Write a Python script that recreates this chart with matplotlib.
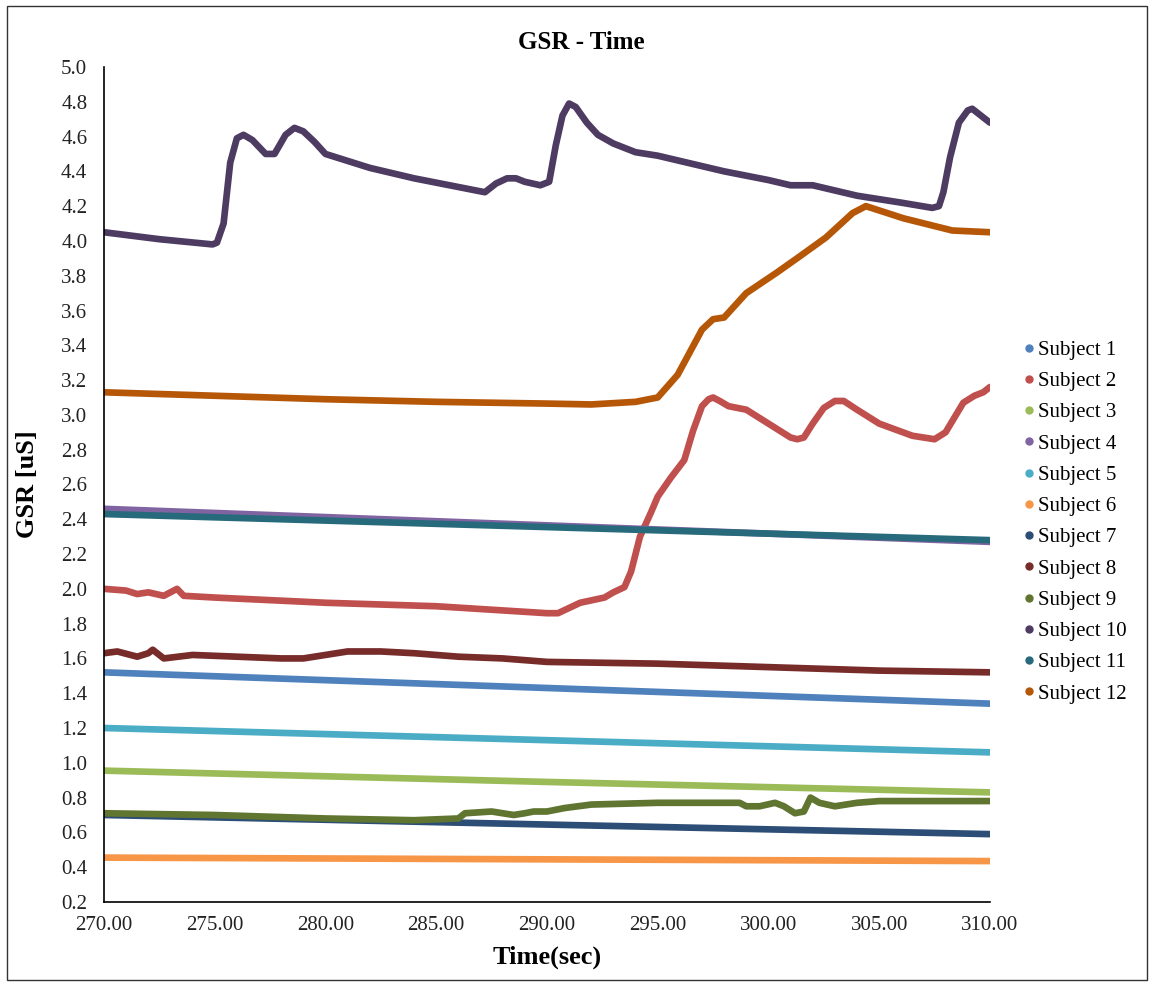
import matplotlib
matplotlib.use("Agg")
import matplotlib.pyplot as plt
from matplotlib.lines import Line2D
from matplotlib.patches import Rectangle
from matplotlib.ticker import FormatStrFormatter, MultipleLocator

plt.rcParams['font.family'] = ['Liberation Serif', 'DejaVu Serif']

labels = [f"Subject {i}" for i in range(1, 13)]
colors = ["#4F81BD", "#C0504D", "#9BBB59", "#8064A2", "#4BACC6", "#F79646",
          "#2C4D75", "#772C2A", "#5F7530", "#4D3B62", "#276A7C", "#B65708"]

# Simple, nearly linear subjects
t_lin = [270.0, 290.0, 310.0]
s1 = [1.52, 1.43, 1.34]
s3 = [0.955, 0.89, 0.83]
s4 = [2.46, 2.365, 2.27]
s5 = [1.20, 1.13, 1.06]
s6 = [0.455, 0.445, 0.435]
s7 = [0.70, 0.645, 0.59]
s11 = [2.43, 2.355, 2.28]

# Subject 2
t2 = [270.0, 271.0, 271.5, 272.0, 272.7, 273.0, 273.3, 273.6, 275.0, 280.0, 285.0, 290.0,
      290.5, 291.5, 292.6, 293.0, 293.5, 293.8, 294.2, 294.7, 295.0, 295.6, 296.2, 296.6,
      297.0, 297.3, 297.5, 297.8, 298.2, 299.0, 300.0, 301.0, 301.3, 301.6, 302.0, 302.5,
      303.0, 303.4, 304.0, 305.0, 306.5, 307.5, 308.0, 308.8, 309.3, 309.7, 310.0]
s2 = [2.00, 1.99, 1.97, 1.98, 1.96, 1.98, 2.00, 1.96, 1.95, 1.92, 1.90, 1.86,
      1.86, 1.92, 1.95, 1.98, 2.01, 2.10, 2.30, 2.44, 2.53, 2.64, 2.74, 2.91,
      3.05, 3.09, 3.10, 3.08, 3.05, 3.03, 2.95, 2.87, 2.86, 2.87, 2.95, 3.04,
      3.08, 3.08, 3.03, 2.95, 2.88, 2.86, 2.90, 3.07, 3.11, 3.13, 3.16]

# Subject 8
t8 = [270.0, 270.6, 271.5, 272.0, 272.2, 272.7, 274.0, 276.0, 278.0, 279.0, 280.0,
      281.0, 282.5, 284.0, 286.0, 288.0, 290.0, 295.0, 300.0, 305.0, 310.0]
s8 = [1.63, 1.64, 1.61, 1.63, 1.65, 1.60, 1.62, 1.61, 1.60, 1.60, 1.62,
      1.64, 1.64, 1.63, 1.61, 1.60, 1.58, 1.57, 1.55, 1.53, 1.52]

# Subject 9
t9 = [270.0, 275.0, 280.0, 284.0, 286.0, 286.3, 287.5, 288.5, 289.0, 289.4, 290.0,
      290.8, 292.0, 295.0, 297.0, 298.7, 299.0, 299.6, 300.3, 300.7, 301.2, 301.6,
      301.9, 302.3, 303.0, 304.0, 305.0, 307.0, 310.0]
s9 = [0.71, 0.70, 0.68, 0.67, 0.68, 0.71, 0.72, 0.70, 0.71, 0.72, 0.72,
      0.74, 0.76, 0.77, 0.77, 0.77, 0.75, 0.75, 0.77, 0.75, 0.71, 0.72,
      0.80, 0.77, 0.75, 0.77, 0.78, 0.78, 0.78]

# Subject 10
t10 = [270.0, 272.5, 274.9, 275.1, 275.4, 275.7, 276.0, 276.3, 276.7, 277.3, 277.7,
       278.2, 278.6, 279.0, 279.5, 280.0, 282.0, 284.0, 286.0, 287.2, 287.7, 288.2,
       288.6, 289.0, 289.7, 290.1, 290.4, 290.7, 291.0, 291.3, 291.8, 292.3, 293.0,
       294.0, 295.0, 296.0, 298.0, 300.0, 301.0, 302.0, 304.0, 306.0, 307.4, 307.7,
       307.9, 308.2, 308.6, 309.0, 309.2, 309.6, 310.0]
s10 = [4.05, 4.01, 3.98, 3.99, 4.10, 4.45, 4.59, 4.61, 4.58, 4.50, 4.50,
       4.61, 4.65, 4.63, 4.57, 4.50, 4.42, 4.36, 4.31, 4.28, 4.33, 4.36,
       4.36, 4.34, 4.32, 4.34, 4.55, 4.72, 4.79, 4.77, 4.68, 4.61, 4.56,
       4.51, 4.49, 4.46, 4.40, 4.35, 4.32, 4.32, 4.26, 4.22, 4.19, 4.20,
       4.28, 4.48, 4.68, 4.75, 4.76, 4.72, 4.68]

# Subject 12
t12 = [270.0, 280.0, 285.0, 290.0, 292.0, 294.0, 295.0, 295.9, 297.0, 297.5, 298.0,
       299.0, 300.4, 301.4, 302.6, 303.8, 304.4, 306.1, 308.3, 310.0]
s12 = [3.13, 3.09, 3.075, 3.065, 3.06, 3.075, 3.10, 3.23, 3.49, 3.55, 3.56,
       3.70, 3.82, 3.91, 4.02, 4.16, 4.20, 4.13, 4.06, 4.05]

series = [(t_lin, s1), (t2, s2), (t_lin, s3), (t_lin, s4), (t_lin, s5), (t_lin, s6),
          (t_lin, s7), (t8, s8), (t9, s9), (t10, s10), (t_lin, s11), (t12, s12)]

fig = plt.figure(figsize=(11.54, 9.85), dpi=100)
ax = fig.add_axes([0.0901, 0.0843, 0.7677, 0.8477])

for (t, v), c in zip(series, colors):
    ax.plot(t, v, color=c, lw=4.8, solid_capstyle='round', solid_joinstyle='round')

ax.set_xlim(270, 310)
ax.set_ylim(0.2, 5.0)
ax.xaxis.set_major_locator(MultipleLocator(5))
ax.yaxis.set_major_locator(MultipleLocator(0.2))
ax.xaxis.set_major_formatter(FormatStrFormatter('%.2f'))
ax.yaxis.set_major_formatter(FormatStrFormatter('%.1f'))
ax.tick_params(axis='both', length=0, labelsize=15, colors='#222222')
ax.tick_params(axis='x', pad=10)
ax.tick_params(axis='y', pad=12)
for s in ['top', 'right']:
    ax.spines[s].set_visible(False)
for s in ['left', 'bottom']:
    ax.spines[s].set_linewidth(1.2)
    ax.spines[s].set_color('black')

ax.set_xlabel('Time(sec)', fontsize=19, fontweight='bold', labelpad=8)
ax.set_ylabel('GSR [uS]', fontsize=19, fontweight='bold', labelpad=16)
fig.text(0.504, 0.957, 'GSR - Time', fontsize=18, fontweight='bold',
         ha='center', va='center')

handles = [Line2D([], [], marker='o', ls='none', color=c, markersize=5) for c in colors]
fig.legend(handles, labels, loc='upper left', bbox_to_anchor=(0.879, 0.663),
           frameon=False, fontsize=15, handlelength=0.6, handletextpad=0.15,
           labelspacing=0.56, borderaxespad=0)

fig.patches.append(Rectangle((0.006, 0.005), 0.988, 0.989, transform=fig.transFigure,
                             fill=False, edgecolor='#333333', lw=1.0))

fig.savefig('out.png', dpi=100)
